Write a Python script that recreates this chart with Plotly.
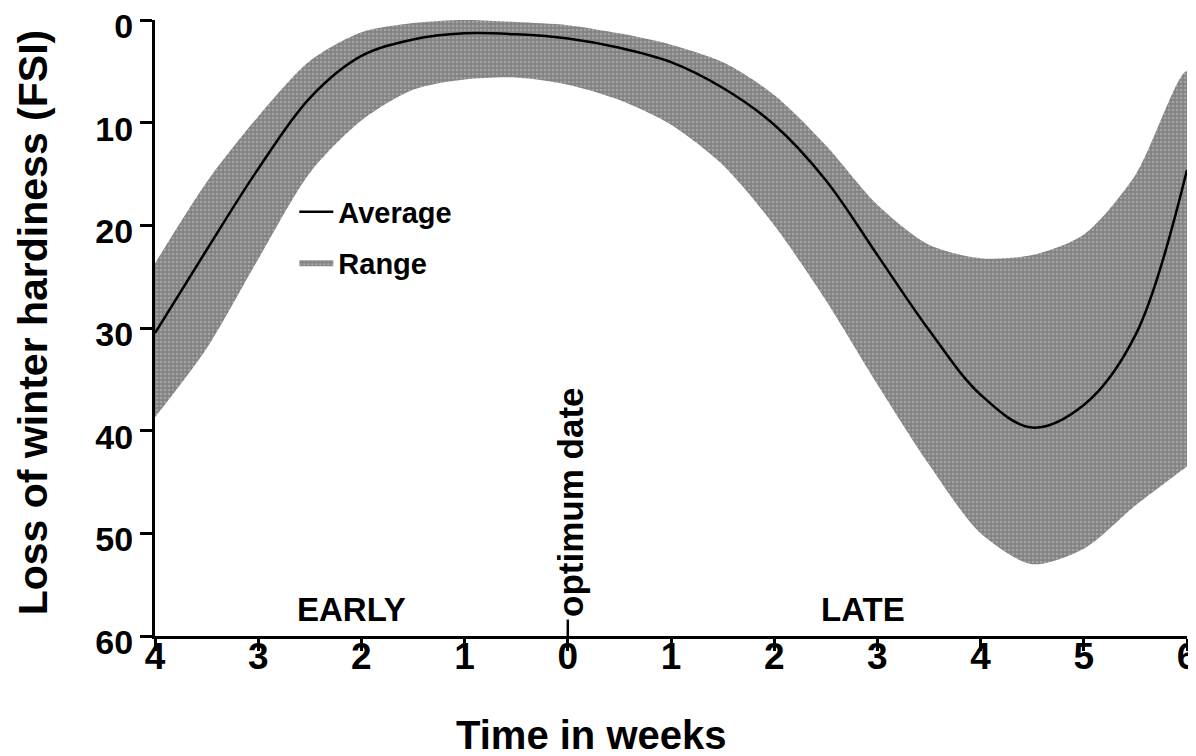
import plotly.graph_objects as go

# Time in weeks relative to optimum date (negative = early)
weeks = [-4, -3.5, -3, -2.5, -2, -1.5, -1, -0.5, 0, 0.5, 1, 1.5, 2, 2.5, 3, 3.5, 4, 4.5, 5, 5.5, 6]
average = [30.5, 22.4, 14.5, 7.6, 3.5, 1.9, 1.3, 1.4, 1.8, 2.7, 4.1, 6.6, 10.2, 15.6, 22.9, 30.2, 36.5, 39.7, 37.5, 30.7, 14.6]
range_low = [23.7, 15.8, 9.4, 4.0, 1.2, 0.3, 0.0, 0.2, 0.5, 1.3, 2.4, 4.1, 7.3, 12.2, 18.0, 21.9, 23.2, 22.9, 20.9, 15.1, 5.0]
range_high = [38.7, 32.0, 23.3, 14.9, 9.8, 6.8, 5.8, 5.6, 6.3, 7.8, 10.2, 14.1, 20.0, 27.3, 35.5, 43.3, 50.0, 53.0, 51.5, 47.3, 43.5]

x_ticks = [-4, -3, -2, -1, 0, 1, 2, 3, 4, 5, 6]
x_ticktext = ["4", "3", "2", "1", "0", "1", "2", "3", "4", "5", "6"]
y_ticks = [0, 10, 20, 30, 40, 50, 60]

FONT = "Liberation Sans"

fig = go.Figure()

band_x = weeks + [weeks[-1]] + weeks[::-1]
band_y = range_low + [range_high[-1]] + range_high[::-1]

fig.add_trace(go.Scatter(
    x=band_x, y=band_y, mode="lines", name="<b>Range</b>", fill="toself",
    legendgroup="b", legendrank=2,
    line=dict(width=0, shape="spline", smoothing=0.8),
    fillcolor="#8e8e8e",
    fillpattern=dict(shape=".", bgcolor="#828282", fgcolor="#c6c6c6", size=4, solidity=0.35),
))
fig.add_trace(go.Scatter(
    x=weeks, y=average, mode="lines", name="<b>Average</b>",
    legendgroup="a", legendrank=1,
    line=dict(color="black", width=2.5, shape="spline"),
))

fig.update_layout(
    width=1188, height=748,
    margin=dict(l=147, r=9, t=12, b=120),
    paper_bgcolor="white", plot_bgcolor="white",
    font=dict(family=FONT, color="black"),
    showlegend=True,
    legend=dict(
        x=0.135, y=0.73, xanchor="left", yanchor="top",
        font=dict(size=29, family=FONT),
        bgcolor="rgba(0,0,0,0)", itemwidth=34, tracegroupgap=10,
    ),
    xaxis=dict(
        range=[-4, 6], tickvals=x_ticks, ticktext=x_ticktext,
        showline=True, linecolor="black", linewidth=3,
        ticks="outside", ticklen=12, tickwidth=2.5, tickcolor="black",
        tickfont=dict(size=37, family=FONT, weight="bold"),
        ticklabelstandoff=-26, ticklabeloverflow="allow",
        showgrid=False, zeroline=False, automargin=False,
    ),
    yaxis=dict(
        range=[60, 0], tickvals=y_ticks,
        showline=True, linecolor="black", linewidth=3,
        ticks="outside", ticklen=12, tickwidth=2.5, tickcolor="black",
        tickfont=dict(size=34, family=FONT, weight="bold"),
        ticklabeloverflow="allow", ticklabelshift=-6,
        showgrid=False, zeroline=False, automargin=False,
    ),
    annotations=[
        dict(text="Time in weeks", xref="paper", yref="paper", x=0.4225, y=-0.16,
             xanchor="center", yanchor="middle", showarrow=False,
             font=dict(size=40, family=FONT, weight="bold")),
        dict(text="Loss of winter hardiness (FSI)", xref="paper", yref="paper", x=-0.118, y=0.508,
             xanchor="center", yanchor="middle", textangle=-90, showarrow=False,
             font=dict(size=41, family=FONT, weight="bold")),
        dict(text="EARLY", x=-2.1, y=57.4, xref="x", yref="y", showarrow=False,
             xanchor="center", yanchor="middle",
             font=dict(size=33, family=FONT, weight="bold")),
        dict(text="LATE", x=2.86, y=57.4, xref="x", yref="y", showarrow=False,
             xanchor="center", yanchor="middle",
             font=dict(size=33, family=FONT, weight="bold")),
        dict(text="optimum date", x=0.02, y=58.3, xref="x", yref="y", showarrow=False,
             xanchor="center", yanchor="bottom", textangle=-90,
             font=dict(size=35, family=FONT, weight=600)),
    ],
    shapes=[
        dict(type="line", xref="x", yref="y", x0=0, x1=0, y0=58.4, y1=60,
             line=dict(color="black", width=2.5)),
    ],
)

fig.write_html("out.html")
